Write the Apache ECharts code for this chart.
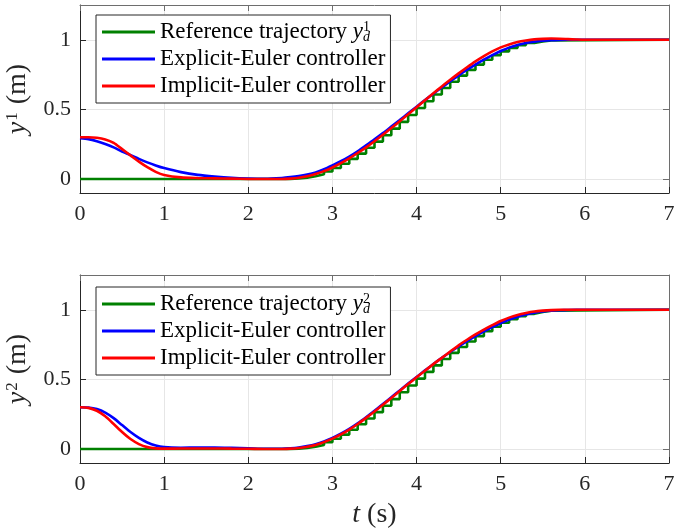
<!DOCTYPE html>
<html>
<head>
    <meta charset="utf-8">
    <script src="https://cdn.jsdelivr.net/npm/echarts@6/dist/echarts.min.js"></script>
    <style>
        body { margin: 0; background: #fff; }
    </style>
</head>
<body>
    <div id="main" style="width:674px; height:531px"></div>
    <script type="text/javascript">
        // time samples of the controller responses (s)
        var tCtrl = [0, 0.1, 0.2, 0.3, 0.4, 0.5, 0.6, 0.7, 0.8, 0.9, 1.0, 1.2, 1.4, 1.6, 1.8, 2.0, 2.2,
            2.4, 2.5, 2.6, 2.7, 2.8, 2.9, 3.0, 3.1, 3.2, 3.3, 3.4, 3.5, 3.6, 3.7, 3.8, 3.9,
            4.0, 4.1, 4.2, 4.3, 4.4, 4.5, 4.6, 4.7, 4.8, 4.9, 5.0, 5.1, 5.2, 5.3, 5.4, 5.5,
            5.6, 5.7, 5.8, 5.9, 6.0, 6.5, 7.0];

        // first output y1
        var explicit1 = [0.294, 0.287, 0.272, 0.252, 0.228, 0.198, 0.172, 0.145, 0.120, 0.098, 0.079, 0.050, 0.030, 0.018, 0.009, 0.004, 0.002,
            0.008, 0.014, 0.022, 0.033, 0.048, 0.070, 0.098, 0.128, 0.162, 0.200, 0.242, 0.285, 0.330, 0.377, 0.424, 0.472,
            0.520, 0.567, 0.613, 0.658, 0.702, 0.745, 0.785, 0.822, 0.857, 0.890, 0.920, 0.944, 0.963, 0.977, 0.987, 0.993,
            0.997, 0.999, 1.000, 1.000, 1.000, 1.000, 1.000];
        var implicit1 = [0.300, 0.300, 0.297, 0.285, 0.260, 0.215, 0.170, 0.125, 0.085, 0.052, 0.030, 0.012, 0.007, 0.005, 0.003, 0.001, 0.000,
            0.000, 0.003, 0.009, 0.020, 0.036, 0.057, 0.083, 0.114, 0.149, 0.187, 0.228, 0.272, 0.318, 0.366, 0.415, 0.465,
            0.515, 0.566, 0.616, 0.665, 0.713, 0.759, 0.803, 0.845, 0.883, 0.917, 0.946, 0.967, 0.984, 0.995, 1.003, 1.007,
            1.009, 1.008, 1.005, 1.002, 1.000, 1.000, 1.000];

        // second output y2
        var explicit2 = [0.300, 0.298, 0.287, 0.262, 0.222, 0.172, 0.122, 0.080, 0.047, 0.025, 0.014, 0.010, 0.011, 0.011, 0.009, 0.006, 0.002,
            0.002, 0.005, 0.011, 0.021, 0.035, 0.055, 0.080, 0.110, 0.145, 0.185, 0.229, 0.275, 0.323, 0.372, 0.421, 0.470,
            0.518, 0.565, 0.611, 0.655, 0.697, 0.737, 0.775, 0.811, 0.845, 0.876, 0.905, 0.930, 0.951, 0.967, 0.979, 0.988,
            0.994, 0.997, 0.999, 1.000, 1.000, 1.000, 1.000];
        var implicit2 = [0.300, 0.296, 0.275, 0.235, 0.180, 0.122, 0.072, 0.036, 0.014, 0.005, 0.003, 0.004, 0.004, 0.004, 0.003, 0.002, 0.000,
            0.001, 0.003, 0.008, 0.017, 0.030, 0.050, 0.075, 0.105, 0.140, 0.180, 0.224, 0.270, 0.318, 0.367, 0.417, 0.467,
            0.515, 0.563, 0.610, 0.655, 0.700, 0.745, 0.785, 0.823, 0.858, 0.890, 0.920, 0.944, 0.963, 0.977, 0.988, 0.994,
            0.998, 1.000, 1.000, 1.000, 1.000, 1.000, 1.000];

        // sampled reference trajectories (held between samples)
        var tRef = [0, 2.4, 2.5, 2.6, 2.7, 2.8, 2.9, 3.0, 3.1, 3.2, 3.3, 3.4, 3.5, 3.6, 3.7, 3.8, 3.9,
            4.0, 4.1, 4.2, 4.3, 4.4, 4.5, 4.6, 4.7, 4.8, 4.9, 5.0, 5.1, 5.2, 5.3, 5.4, 5.5, 5.6, 7.0];
        var ref1 = [0, 0, 0.004, 0.010, 0.020, 0.034, 0.054, 0.080, 0.110, 0.145, 0.183, 0.225, 0.269, 0.315, 0.362, 0.411, 0.460,
            0.510, 0.559, 0.607, 0.654, 0.699, 0.743, 0.784, 0.822, 0.857, 0.889, 0.917, 0.942, 0.962, 0.978, 0.989, 0.996, 1.000, 1.000];
        var ref2 = [0, 0, 0.003, 0.008, 0.017, 0.030, 0.049, 0.074, 0.104, 0.139, 0.178, 0.220, 0.265, 0.311, 0.359, 0.408, 0.457,
            0.506, 0.554, 0.601, 0.647, 0.691, 0.733, 0.773, 0.811, 0.846, 0.878, 0.907, 0.932, 0.954, 0.971, 0.984, 0.993, 1.000, 1.000];

        var yTicks = [0, 0.5, 1];

        function pairs(ts, ys) {
            return ts.map(function (t, i) { return [t, ys[i]]; });
        }

        var serif = 'Liberation Serif';
        var axisColor = '#262626';
        var boxColor = '#6e6e6e';
        var gridColor = '#e6e6e6';

        var richText = {
            i: { fontFamily: serif, fontStyle: 'italic', fontSize: 23, lineHeight: 24, color: '#000' },
            sup: { fontFamily: serif, fontSize: 14, lineHeight: 13, verticalAlign: 'top', width: 0, color: '#000' },
            sub: { fontFamily: serif, fontStyle: 'italic', fontSize: 14, lineHeight: 13, verticalAlign: 'bottom', color: '#000' }
        };

        var nameRich = {
            i: { fontFamily: serif, fontStyle: 'italic', fontSize: 28, color: axisColor },
            sup: { fontFamily: serif, fontSize: 17, verticalAlign: 'top', lineHeight: 16, padding: [0, 8, 12, 1], color: axisColor }
        };

        function bottomAxis(gi, name) {
            return {
                type: 'value', gridIndex: gi, min: 0, max: 7, interval: 1,
                position: 'bottom',
                name: name, nameLocation: 'middle', nameGap: 38,
                nameTextStyle: { fontFamily: serif, fontSize: 28, color: axisColor, rich: nameRich },
                axisLine: { show: true, onZero: false, lineStyle: { color: axisColor, width: 1 } },
                axisTick: { show: true, inside: true, length: 6, lineStyle: { color: axisColor } },
                axisLabel: { fontFamily: serif, fontSize: 22, color: axisColor, margin: 10 },
                splitLine: { show: true, lineStyle: { color: gridColor, width: 1 } }
            };
        }
        function topAxis(gi) {
            return {
                type: 'value', gridIndex: gi, min: 0, max: 7, interval: 1,
                position: 'top',
                axisLine: { show: true, onZero: false, lineStyle: { color: boxColor, width: 1 } },
                axisTick: { show: true, inside: true, length: 6, lineStyle: { color: boxColor } },
                axisLabel: { show: false },
                splitLine: { show: false }
            };
        }
        function leftAxis(gi, name) {
            return {
                type: 'value', gridIndex: gi, min: -0.1, max: 1.25,
                position: 'left',
                name: name, nameLocation: 'middle', nameGap: 32, nameRotate: 90,
                nameTextStyle: { fontFamily: serif, fontSize: 28, color: axisColor, rich: nameRich },
                axisLine: { show: true, onZero: false, lineStyle: { color: axisColor, width: 1 } },
                axisTick: { show: true, inside: true, length: 6, customValues: yTicks, lineStyle: { color: axisColor } },
                axisLabel: { fontFamily: serif, fontSize: 22, color: axisColor, margin: 9, customValues: yTicks },
                splitLine: { show: true, lineStyle: { color: gridColor, width: 1 } }
            };
        }
        function rightAxis(gi) {
            return {
                type: 'value', gridIndex: gi, min: -0.1, max: 1.25,
                position: 'right',
                axisLine: { show: true, onZero: false, lineStyle: { color: boxColor, width: 1 } },
                axisTick: { show: true, inside: true, length: 6, customValues: yTicks, lineStyle: { color: boxColor } },
                axisLabel: { show: false },
                splitLine: { show: false }
            };
        }

        function lineSeries(name, xi, yi, data, color, z, step) {
            return {
                name: name, type: 'line', xAxisIndex: xi, yAxisIndex: yi,
                data: data, showSymbol: false, symbol: 'none',
                smooth: step ? false : 0.25,
                step: step || false,
                z: z,
                lineStyle: { color: color, width: 2.6 },
                itemStyle: { color: color },
                animation: false
            };
        }

        function legendFor(top, refName) {
            return {
                orient: 'vertical', left: 96, top: top,
                data: [refName, 'Explicit-Euler controller', 'Implicit-Euler controller'],
                icon: 'rect', itemWidth: 53, itemHeight: 3, itemGap: 3,
                padding: [5, 5, 5, 6],
                backgroundColor: '#fff', borderColor: axisColor, borderWidth: 1,
                selectedMode: false,
                textStyle: { fontFamily: serif, fontSize: 23, lineHeight: 24, color: '#000', rich: richText },
                formatter: function (name) {
                    if (name === 'ref1') return 'Reference trajectory {i|y}{sup|1}{sub|d}';
                    if (name === 'ref2') return 'Reference trajectory {i|y}{sup|2}{sub|d}';
                    return name;
                }
            };
        }

        var myChart = echarts.init(document.getElementById('main'));
        var option = {
            backgroundColor: '#fff',
            animation: false,
            grid: [
                { left: 80, top: 5, width: 589, height: 188, outerBoundsMode: 'none', containLabel: false },
                { left: 80, top: 275, width: 589, height: 188, outerBoundsMode: 'none', containLabel: false }
            ],
            xAxis: [bottomAxis(0, ''), topAxis(0), bottomAxis(1, '{i|t} (s)'), topAxis(1)],
            yAxis: [leftAxis(0, '{i|y}{sup|1}(m)'), rightAxis(0), leftAxis(1, '{i|y}{sup|2}(m)'), rightAxis(1)],
            legend: [legendFor(15, 'ref1'), legendFor(287, 'ref2')],
            series: [
                lineSeries('ref1', 0, 0, pairs(tRef, ref1), '#008000', 2, 'end'),
                lineSeries('Explicit-Euler controller', 0, 0, pairs(tCtrl, explicit1), '#0000ff', 3),
                lineSeries('Implicit-Euler controller', 0, 0, pairs(tCtrl, implicit1), '#ff0000', 4),
                lineSeries('ref2', 2, 2, pairs(tRef, ref2), '#008000', 2, 'end'),
                lineSeries('Explicit-Euler controller', 2, 2, pairs(tCtrl, explicit2), '#0000ff', 3),
                lineSeries('Implicit-Euler controller', 2, 2, pairs(tCtrl, implicit2), '#ff0000', 4)
            ]
        };
        myChart.setOption(option);
    </script>
</body>
</html>
